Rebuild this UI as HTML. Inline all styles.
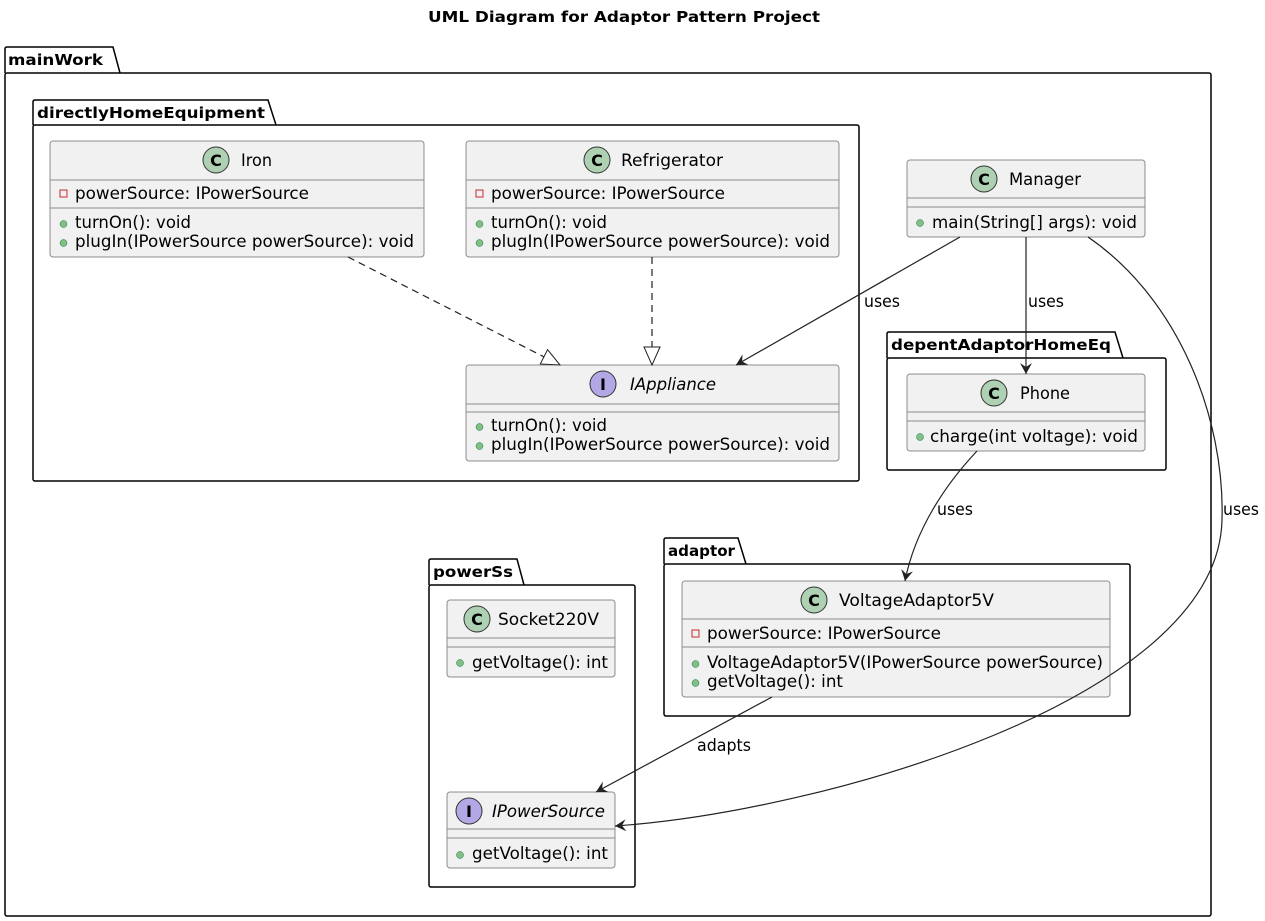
<!DOCTYPE html>
<html><head><meta charset="utf-8"><style>
body{margin:0;background:#fff}
svg{display:block}
text{font-family:"DejaVu Sans","Liberation Sans",sans-serif;fill:#000}
.t{font-size:16.5px}
.b{font-weight:bold;font-size:15.5px}
.box{fill:#f1f1f1;stroke:#8c8c8c;stroke-width:1}
.sep{stroke:#8c8c8c;stroke-width:1}
.pkg{fill:#fff;stroke:#000;stroke-width:1.5}
.ln{fill:none;stroke:#222;stroke-width:1.2}
.ic{font-size:16px;font-weight:bold}
</style></head><body>
<svg width="1265" height="921" viewBox="0 0 1265 921">
<defs>
<marker id="ar" viewBox="0 0 12 12" refX="11" refY="6" markerWidth="12" markerHeight="12" orient="auto" markerUnits="userSpaceOnUse"><path d="M0,0 L11,6 L0,12 L4,6 Z" fill="#222"/></marker>
<marker id="tri" viewBox="0 0 20 20" refX="19" refY="10" markerWidth="20" markerHeight="20" orient="auto" markerUnits="userSpaceOnUse"><path d="M1,2 L19,10 L1,18 Z" fill="#fff" stroke="#222" stroke-width="1"/></marker>
</defs>
<text x="428" y="22" class="b" textLength="392" lengthAdjust="spacingAndGlyphs">UML Diagram for Adaptor Pattern Project</text>

<path class="pkg" d="M5,73 L5,49 Q5,47 7,47 L113,47 L120,73"/>
<rect class="pkg" x="5" y="73" width="1206" height="843" rx="2"/>
<text x="8" y="65" class="b" textLength="95" lengthAdjust="spacingAndGlyphs">mainWork</text>

<path class="pkg" d="M33,125 L33,102 Q33,100 35,100 L268,100 L276,125"/>
<rect class="pkg" x="33" y="125" width="826" height="356" rx="2"/>
<text x="37" y="118" class="b" textLength="228" lengthAdjust="spacingAndGlyphs">directlyHomeEquipment</text>

<path class="pkg" d="M887,358 L887,334 Q887,332 889,332 L1115,332 L1123,358"/>
<rect class="pkg" x="887" y="358" width="279" height="112" rx="2"/>
<text x="891" y="350" class="b" textLength="220" lengthAdjust="spacingAndGlyphs">depentAdaptorHomeEq</text>

<path class="pkg" d="M664,564 L664,540 Q664,538 666,538 L738,538 L746,564"/>
<rect class="pkg" x="664" y="564" width="466" height="152" rx="2"/>
<text x="668" y="556" class="b" textLength="67" lengthAdjust="spacingAndGlyphs">adaptor</text>

<path class="pkg" d="M429,585 L429,561 Q429,559 431,559 L517,559 L524,585"/>
<rect class="pkg" x="429" y="585" width="206" height="302" rx="2"/>
<text x="433" y="577" class="b" textLength="80" lengthAdjust="spacingAndGlyphs">powerSs</text>

<!-- Iron -->
<rect class="box" x="50" y="141" width="374" height="116" rx="3"/>
<line class="sep" x1="50" y1="180" x2="424" y2="180"/><line class="sep" x1="50" y1="208" x2="424" y2="208"/>
<circle cx="216" cy="160" r="13" fill="#add1b2" stroke="#333"/><text x="216" y="166" text-anchor="middle" class="ic">C</text>
<text x="241" y="166" class="t" textLength="31" lengthAdjust="spacingAndGlyphs">Iron</text>
<rect x="60" y="190" width="7" height="7" fill="none" stroke="#c82930"/>
<text x="75" y="199" class="t" textLength="234" lengthAdjust="spacingAndGlyphs">powerSource: IPowerSource</text>
<circle cx="63.5" cy="224" r="3.5" fill="#84be84" stroke="#038048" stroke-width=".5"/><text x="75" y="228" class="t" textLength="116" lengthAdjust="spacingAndGlyphs">turnOn(): void</text>
<circle cx="63.5" cy="243" r="3.5" fill="#84be84" stroke="#038048" stroke-width=".5"/><text x="75" y="247" class="t" textLength="339" lengthAdjust="spacingAndGlyphs">plugIn(IPowerSource powerSource): void</text>

<!-- Refrigerator -->
<rect class="box" x="466" y="141" width="373" height="116" rx="3"/>
<line class="sep" x1="466" y1="180" x2="839" y2="180"/><line class="sep" x1="466" y1="208" x2="839" y2="208"/>
<circle cx="597" cy="160" r="13" fill="#add1b2" stroke="#333"/><text x="597" y="166" text-anchor="middle" class="ic">C</text>
<text x="621" y="166" class="t" textLength="102" lengthAdjust="spacingAndGlyphs">Refrigerator</text>
<rect x="476" y="190" width="7" height="7" fill="none" stroke="#c82930"/>
<text x="491" y="199" class="t" textLength="234" lengthAdjust="spacingAndGlyphs">powerSource: IPowerSource</text>
<circle cx="479.5" cy="224" r="3.5" fill="#84be84" stroke="#038048" stroke-width=".5"/><text x="491" y="228" class="t" textLength="116" lengthAdjust="spacingAndGlyphs">turnOn(): void</text>
<circle cx="479.5" cy="243" r="3.5" fill="#84be84" stroke="#038048" stroke-width=".5"/><text x="491" y="247" class="t" textLength="339" lengthAdjust="spacingAndGlyphs">plugIn(IPowerSource powerSource): void</text>

<!-- IAppliance -->
<rect class="box" x="466" y="365" width="373" height="96" rx="3"/>
<line class="sep" x1="466" y1="404" x2="839" y2="404"/><line class="sep" x1="466" y1="412" x2="839" y2="412"/>
<circle cx="603" cy="384" r="13" fill="#b4a7e5" stroke="#333"/><text x="603" y="390" text-anchor="middle" class="ic">I</text>
<text x="630" y="390" class="t" font-style="italic" textLength="86" lengthAdjust="spacingAndGlyphs">IAppliance</text>
<circle cx="479.5" cy="427" r="3.5" fill="#84be84" stroke="#038048" stroke-width=".5"/><text x="491" y="431" class="t" textLength="116" lengthAdjust="spacingAndGlyphs">turnOn(): void</text>
<circle cx="479.5" cy="446" r="3.5" fill="#84be84" stroke="#038048" stroke-width=".5"/><text x="491" y="450" class="t" textLength="339" lengthAdjust="spacingAndGlyphs">plugIn(IPowerSource powerSource): void</text>

<!-- Manager -->
<rect class="box" x="907" y="160" width="238" height="77" rx="3"/>
<line class="sep" x1="907" y1="198" x2="1145" y2="198"/><line class="sep" x1="907" y1="207" x2="1145" y2="207"/>
<circle cx="984" cy="179" r="13" fill="#add1b2" stroke="#333"/><text x="984" y="185" text-anchor="middle" class="ic">C</text>
<text x="1009" y="185" class="t" textLength="72" lengthAdjust="spacingAndGlyphs">Manager</text>
<circle cx="920" cy="223" r="3.5" fill="#84be84" stroke="#038048" stroke-width=".5"/><text x="932" y="228" class="t" textLength="205" lengthAdjust="spacingAndGlyphs">main(String[] args): void</text>

<!-- Phone -->
<rect class="box" x="907" y="374" width="238" height="77" rx="3"/>
<line class="sep" x1="907" y1="412" x2="1145" y2="412"/><line class="sep" x1="907" y1="421" x2="1145" y2="421"/>
<circle cx="994" cy="393" r="13" fill="#add1b2" stroke="#333"/><text x="994" y="399" text-anchor="middle" class="ic">C</text>
<text x="1020" y="399" class="t" textLength="50" lengthAdjust="spacingAndGlyphs">Phone</text>
<circle cx="920" cy="437" r="3.5" fill="#84be84" stroke="#038048" stroke-width=".5"/><text x="930" y="442" class="t" textLength="208" lengthAdjust="spacingAndGlyphs">charge(int voltage): void</text>

<!-- VoltageAdaptor5V -->
<rect class="box" x="682" y="581" width="428" height="116" rx="3"/>
<line class="sep" x1="682" y1="619" x2="1110" y2="619"/><line class="sep" x1="682" y1="647" x2="1110" y2="647"/>
<circle cx="814" cy="600" r="13" fill="#add1b2" stroke="#333"/><text x="814" y="606" text-anchor="middle" class="ic">C</text>
<text x="839" y="606" class="t" textLength="155" lengthAdjust="spacingAndGlyphs">VoltageAdaptor5V</text>
<rect x="692" y="630" width="7" height="7" fill="none" stroke="#c82930"/>
<text x="707" y="639" class="t" textLength="234" lengthAdjust="spacingAndGlyphs">powerSource: IPowerSource</text>
<circle cx="695.5" cy="664" r="3.5" fill="#84be84" stroke="#038048" stroke-width=".5"/><text x="707" y="668" class="t" textLength="396" lengthAdjust="spacingAndGlyphs">VoltageAdaptor5V(IPowerSource powerSource)</text>
<circle cx="695.5" cy="683" r="3.5" fill="#84be84" stroke="#038048" stroke-width=".5"/><text x="707" y="687" class="t" textLength="136" lengthAdjust="spacingAndGlyphs">getVoltage(): int</text>

<!-- Socket220V -->
<rect class="box" x="447" y="600" width="168" height="77" rx="3"/>
<line class="sep" x1="447" y1="638" x2="615" y2="638"/><line class="sep" x1="447" y1="647" x2="615" y2="647"/>
<circle cx="477" cy="619" r="13" fill="#add1b2" stroke="#333"/><text x="477" y="625" text-anchor="middle" class="ic">C</text>
<text x="498" y="625" class="t" textLength="101" lengthAdjust="spacingAndGlyphs">Socket220V</text>
<circle cx="460" cy="663" r="3.5" fill="#84be84" stroke="#038048" stroke-width=".5"/><text x="472" y="668" class="t" textLength="136" lengthAdjust="spacingAndGlyphs">getVoltage(): int</text>

<!-- IPowerSource -->
<rect class="box" x="447" y="792" width="168" height="76" rx="3"/>
<line class="sep" x1="447" y1="829" x2="615" y2="829"/><line class="sep" x1="447" y1="838" x2="615" y2="838"/>
<circle cx="469" cy="811" r="13" fill="#b4a7e5" stroke="#333"/><text x="469" y="817" text-anchor="middle" class="ic">I</text>
<text x="492" y="817" class="t" font-style="italic" textLength="113" lengthAdjust="spacingAndGlyphs">IPowerSource</text>
<circle cx="460" cy="855" r="3.5" fill="#84be84" stroke="#038048" stroke-width=".5"/><text x="472" y="859" class="t" textLength="136" lengthAdjust="spacingAndGlyphs">getVoltage(): int</text>

<!-- connectors -->
<path class="ln" d="M348,257 L560,365" stroke-dasharray="7,5" marker-end="url(#tri)"/>
<path class="ln" d="M652,257 L652,365" stroke-dasharray="7,5" marker-end="url(#tri)"/>
<path class="ln" d="M960,237 L736,365" marker-end="url(#ar)"/>
<text x="864" y="307" class="t" textLength="36" lengthAdjust="spacingAndGlyphs">uses</text>
<path class="ln" d="M1026,237 L1026,374" marker-end="url(#ar)"/>
<text x="1028" y="307" class="t" textLength="36" lengthAdjust="spacingAndGlyphs">uses</text>
<path class="ln" d="M1088,237 C1180,300 1225,420 1222,520 C1218,700 820,812 615,826" marker-end="url(#ar)"/>
<text x="1223" y="515" class="t" textLength="36" lengthAdjust="spacingAndGlyphs">uses</text>
<path class="ln" d="M977,451 C945,485 915,530 905,581" marker-end="url(#ar)"/>
<text x="937" y="515" class="t" textLength="36" lengthAdjust="spacingAndGlyphs">uses</text>
<path class="ln" d="M772,697 L596,792" marker-end="url(#ar)"/>
<text x="697" y="751" class="t" textLength="54" lengthAdjust="spacingAndGlyphs">adapts</text>
</svg>
</body></html>
